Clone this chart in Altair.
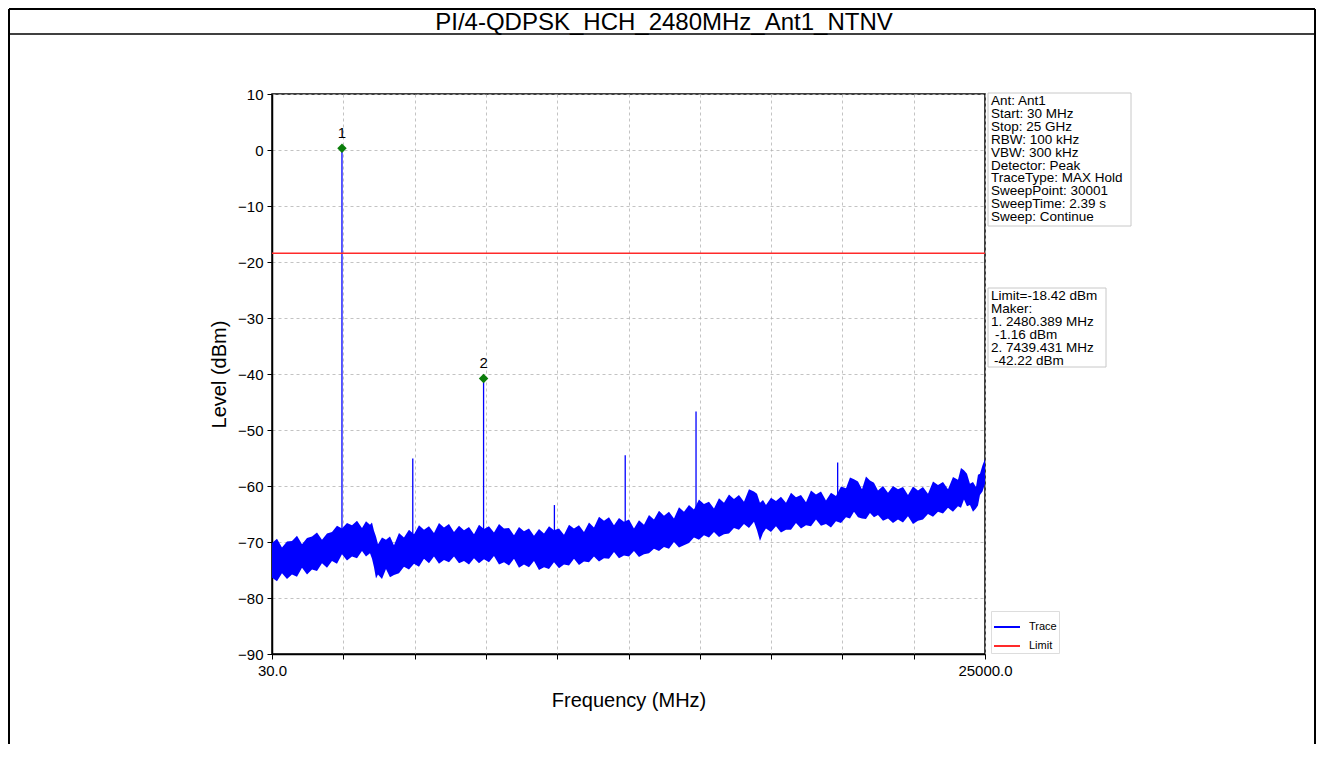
import altair as alt
import pandas as pd

# ---------------- text ----------------
title_text = "PI/4-QDPSK_HCH_2480MHz_Ant1_NTNV"
x_title = "Frequency (MHz)"
y_title = "Level (dBm)"
info_lines = ["Ant: Ant1", "Start: 30 MHz", "Stop: 25 GHz", "RBW: 100 kHz", "VBW: 300 kHz",
              "Detector: Peak", "TraceType: MAX Hold", "SweepPoint: 30001",
              "SweepTime: 2.39 s", "Sweep: Continue"]
marker_head = ["Limit=-18.42 dBm", "Maker:", "1. 2480.389 MHz"]
marker_val1 = "-1.16 dBm"
marker_line2 = "2. 7439.431 MHz"
marker_val2 = "-42.22 dBm"

# ---------------- axes ----------------
x_ticks = [30, 2527, 5024, 7521, 10018, 12515, 15012, 17509, 20006, 22503, 25000]
y_ticks = [-90, -80, -70, -60, -50, -40, -30, -20, -10, 0, 10]

# ---------------- noise floor envelope (MHz, dBm) ----------------
noise_freq = [30, 205, 380, 555, 730, 905, 1081, 1256, 1431, 1606,
              1781, 1956, 2131, 2306, 2481, 2656, 2832, 3007, 3182, 3322,
              3462, 3532, 3602, 3672, 3742, 3882, 4022, 4162, 4302, 4477,
              4652, 4827, 5003, 5178, 5353, 5528, 5703, 5878, 6053, 6228,
              6404, 6579, 6754, 6929, 7104, 7279, 7454, 7629, 7804, 7980,
              8155, 8330, 8505, 8680, 8855, 9030, 9205, 9380, 9556, 9731,
              9906, 10081, 10256, 10431, 10606, 10781, 10956, 11131, 11306, 11482,
              11657, 11832, 12007, 12182, 12357, 12532, 12707, 12882, 13057, 13232,
              13407, 13583, 13758, 13933, 14108, 14283, 14458, 14633, 14808, 14983,
              15158, 15334, 15509, 15684, 15859, 16034, 16209, 16384, 16559, 16734,
              16909, 17015, 17120, 17225, 17330, 17505, 17680, 17855, 18030, 18206,
              18381, 18556, 18731, 18906, 19081, 19256, 19431, 19606, 19781, 19957,
              20132, 20272, 20412, 20552, 20692, 20832, 20972, 21112, 21252, 21428,
              21603, 21778, 21953, 22128, 22303, 22478, 22653, 22828, 23003, 23179,
              23354, 23529, 23704, 23879, 24054, 24159, 24264, 24369, 24474, 24579,
              24684, 24754, 24824, 24912, 25000]
noise_upper = [-70.2, -69.4, -71.0, -69.9, -69.8, -68.9, -70.4, -69.3, -69.0, -68.3,
               -69.6, -68.5, -68.2, -67.1, -67.6, -66.6, -67.0, -66.2, -67.5, -66.3,
               -66.9, -66.5, -68.0, -69.0, -70.4, -69.2, -69.6, -69.0, -70.6, -68.4,
               -69.2, -67.8, -68.6, -67.0, -67.8, -67.2, -68.4, -66.6, -67.4, -66.8,
               -68.2, -67.1, -67.9, -67.3, -68.6, -66.9, -67.7, -67.2, -68.3, -66.8,
               -67.6, -67.5, -68.8, -67.3, -68.1, -67.6, -68.9, -67.7, -68.5, -67.2,
               -67.9, -67.6, -68.7, -66.9, -67.6, -67.0, -68.2, -66.5, -67.4, -65.5,
               -66.2, -65.6, -67.0, -65.7, -66.4, -66.0, -67.6, -66.1, -66.9, -65.2,
               -66.0, -64.4, -65.3, -64.6, -65.8, -63.8, -64.6, -63.4, -64.2, -62.4,
               -63.2, -62.8, -64.0, -62.2, -63.0, -61.5, -62.3, -61.6, -62.8, -60.6,
               -61.0, -61.4, -63.0, -62.5, -63.4, -62.1, -62.7, -61.9, -63.0, -61.2,
               -62.0, -61.6, -62.9, -60.8, -61.5, -61.0, -62.6, -61.2, -61.8, -60.1,
               -60.4, -58.5, -58.8, -59.2, -60.6, -58.3, -59.0, -59.4, -60.8, -60.0,
               -61.2, -60.0, -60.6, -60.2, -61.6, -60.1, -60.8, -60.2, -61.4, -59.2,
               -59.8, -59.3, -60.6, -58.4, -58.9, -56.8, -57.2, -57.8, -59.6, -59.3,
               -60.2, -58.0, -57.8, -56.3, -55.2]
noise_lower = [-76.4, -77.0, -75.6, -76.6, -75.8, -76.2, -74.6, -75.8, -74.9, -75.2,
               -73.8, -74.6, -73.4, -73.9, -72.2, -73.3, -72.6, -72.9, -71.6, -72.6,
               -72.0, -73.0, -74.5, -76.5, -75.8, -76.6, -74.8, -76.3, -75.9, -75.6,
               -74.4, -74.9, -73.9, -74.4, -73.0, -73.8, -72.6, -73.9, -73.2, -73.6,
               -72.6, -73.8, -73.4, -74.0, -72.9, -73.8, -73.1, -73.6, -72.5, -74.0,
               -73.6, -74.2, -73.0, -74.6, -74.0, -74.5, -73.4, -75.0, -74.5, -74.8,
               -73.6, -74.7, -74.0, -74.2, -73.0, -74.1, -73.5, -73.6, -72.6, -73.5,
               -72.9, -73.0, -71.8, -72.9, -72.4, -72.6, -71.6, -72.7, -72.2, -72.0,
               -71.2, -71.6, -70.9, -71.2, -70.0, -71.0, -70.6, -70.2, -69.2, -69.6,
               -68.8, -69.2, -68.2, -69.1, -68.6, -68.5, -67.5, -67.8, -66.8, -67.5,
               -66.4, -67.9, -69.8, -68.4, -67.6, -68.2, -67.2, -68.3, -67.8, -67.8,
               -66.6, -67.6, -67.0, -67.2, -66.0, -67.1, -66.8, -67.4, -66.3, -66.6,
               -65.6, -65.8, -64.6, -65.6, -65.8, -65.9, -64.8, -65.6, -65.2, -66.2,
               -65.8, -66.6, -66.0, -66.5, -65.4, -66.8, -66.2, -66.0, -65.0, -65.5,
               -64.6, -64.9, -63.9, -64.6, -63.6, -63.9, -62.4, -63.6, -63.4, -64.6,
               -64.0, -63.5, -61.6, -61.0, -59.6]

# ---------------- spurious spikes ----------------
spike_freq = [2480.389, 4960, 7439.431, 9920, 12400, 14880, 19840]
spike_top = [0.3, -55.1, -40.8, -63.4, -54.5, -46.7, -55.8]
spike_base = [-68.0, -69.0, -69.0, -68.5, -67.0, -64.5, -62.0]

# ---------------- markers / limit ----------------
marker_label = ["1", "2"]
marker_freq = [2480.389, 7439.431]
marker_level = [0.3, -40.8]
limit_level = [-18.42]
series_names = ["Trace", "Limit"]
series_colors = ["#0000ff", "#ff2a2a"]

FONT = "Liberation Sans"

noise_df = pd.DataFrame({"freq": noise_freq, "upper": noise_upper, "lower": noise_lower})
spike_df = pd.DataFrame({"freq": spike_freq, "top": spike_top, "base": spike_base,
                         "series": [series_names[0]] * len(spike_freq)})
marker_df = pd.DataFrame({"freq": marker_freq, "level": marker_level, "label": marker_label})
limit_df = pd.DataFrame({"level": limit_level, "series": [series_names[1]]})
deco_df = pd.DataFrame({"k": [0]})

xs = alt.Scale(domain=[x_ticks[0], x_ticks[-1]], nice=False, zero=False)
ys = alt.Scale(domain=[y_ticks[0], y_ticks[-1]], nice=False, zero=False)
xax = alt.Axis(values=x_ticks, title=x_title, labelFlush=False, labelOverlap=False,
               labelExpr="datum.value == 30 || datum.value == 25000 ? format(datum.value, '.1f') : ''",
               labelFontSize=15, labelPadding=4, titleFontSize=20, titlePadding=12)
yax = alt.Axis(values=y_ticks, title=y_title, format="d", labelFontSize=15, labelPadding=4,
               titleFontSize=20, titlePadding=8)
cs = alt.Scale(domain=series_names, range=series_colors)
leg = alt.Legend(orient="none", legendX=719, legendY=517, title=None, symbolType="stroke",
                 symbolSize=676, symbolStrokeWidth=2, labelFontSize=11, labelFont=FONT,
                 padding=2, strokeColor="#dddddd", fillColor="white", labelOffset=8,
                 rowPadding=-2.2, direction="vertical")

band = alt.Chart(noise_df).mark_area(color="#0000ff", opacity=1).encode(
    x=alt.X("freq:Q", scale=xs, axis=xax),
    y=alt.Y("upper:Q", scale=ys, axis=yax),
    y2="lower:Q",
)
spikes = alt.Chart(spike_df).mark_rule(strokeWidth=1.3).encode(
    x=alt.X("freq:Q", scale=xs, axis=xax),
    y=alt.Y("top:Q", scale=ys, axis=yax),
    y2="base:Q",
    color=alt.Color("series:N", scale=cs, legend=leg),
)
limit = alt.Chart(limit_df).mark_rule(strokeWidth=1.5).encode(
    y=alt.Y("level:Q", scale=ys, axis=yax),
    color=alt.Color("series:N", scale=cs, legend=leg),
)
markers = alt.Chart(marker_df).mark_point(shape="diamond", filled=True, size=90,
                                          color="#0b7d0b", opacity=1).encode(
    x=alt.X("freq:Q", scale=xs, axis=xax),
    y=alt.Y("level:Q", scale=ys, axis=yax),
)
marker_text = alt.Chart(marker_df).mark_text(dy=-15, fontSize=15, color="black", font=FONT).encode(
    x=alt.X("freq:Q", scale=xs, axis=xax),
    y=alt.Y("level:Q", scale=ys, axis=yax),
    text="label:N",
)

# info boxes
TXT = dict(align="left", baseline="top", fontSize=13.5, lineHeight=12.9, font=FONT, color="black")
box1 = alt.Chart(deco_df).mark_rect(fill="white", stroke="#c8c8c8", strokeWidth=1).encode(
    x=alt.value(716), x2=alt.value(859), y=alt.value(-1), y2=alt.value(132))
txt1 = alt.Chart(deco_df).mark_text(text=info_lines, **TXT).encode(
    x=alt.value(719), y=alt.value(0))
box2 = alt.Chart(deco_df).mark_rect(fill="white", stroke="#c8c8c8", strokeWidth=1).encode(
    x=alt.value(716), x2=alt.value(834), y=alt.value(194), y2=alt.value(273))
txt2 = alt.Chart(deco_df).mark_text(text=marker_head, **TXT).encode(
    x=alt.value(719), y=alt.value(195))
txt3 = alt.Chart(deco_df).mark_text(text=marker_val1, **TXT).encode(
    x=alt.value(723), y=alt.value(233.7))
txt4 = alt.Chart(deco_df).mark_text(text=marker_line2, **TXT).encode(
    x=alt.value(719), y=alt.value(246.6))
txt5 = alt.Chart(deco_df).mark_text(text=marker_val2, **TXT).encode(
    x=alt.value(722), y=alt.value(259.5))

# page frame and title bar
frame_l = alt.Chart(deco_df).mark_rule(color="black", strokeWidth=2).encode(
    x=alt.value(-263), y=alt.value(-85), y2=alt.value(650))
frame_r = alt.Chart(deco_df).mark_rule(color="black", strokeWidth=2).encode(
    x=alt.value(1043), y=alt.value(-85), y2=alt.value(650))
frame_t = alt.Chart(deco_df).mark_rule(color="black", strokeWidth=2).encode(
    x=alt.value(-263), x2=alt.value(1043), y=alt.value(-85))
frame_s = alt.Chart(deco_df).mark_rule(color="black", strokeWidth=1.5).encode(
    x=alt.value(-263), x2=alt.value(1043), y=alt.value(-60))
title = alt.Chart(deco_df).mark_text(fontSize=24, font=FONT, color="black", baseline="middle",
                                     align="center", text=title_text).encode(
    x=alt.value(392), y=alt.value(-71.5))

chart = alt.layer(
    band, spikes, limit, markers, marker_text,
    box1, txt1, box2, txt2, txt3, txt4, txt5,
    frame_l, frame_r, frame_t, frame_s, title,
).properties(
    width=713, height=560,
    padding={"left": 264, "top": 86, "right": 331, "bottom": 90},
    autosize=alt.AutoSizeParams(type="none"),
).configure(
    font=FONT, background="white"
).configure_view(
    stroke="black", strokeWidth=1.5
).configure_axis(
    domainColor="black", domainWidth=1.5, tickColor="black", tickSize=5,
    labelColor="black", titleColor="black", labelFont=FONT, titleFont=FONT,
    titleFontWeight="normal", gridColor="#b4b4b4", gridDash=[3, 3], gridWidth=0.8,
)

chart.save("out.html", embed_options={"renderer": "svg", "actions": False})
